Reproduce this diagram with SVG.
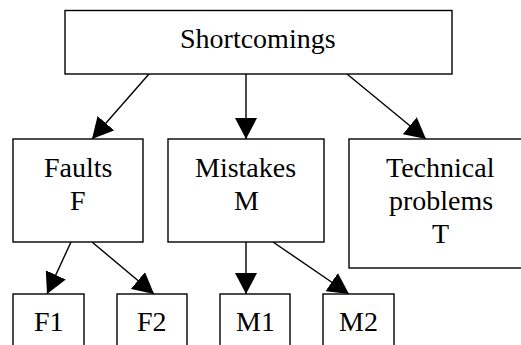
<svg xmlns="http://www.w3.org/2000/svg" width="521" height="345" viewBox="0 0 521 345">
<defs>
<marker id="ah" markerWidth="22" markerHeight="22" refX="21" refY="11" orient="auto" markerUnits="userSpaceOnUse">
<path d="M0,0 L21,11 L0,22 Z" fill="#000"/>
</marker>
</defs>
<rect x="0" y="0" width="521" height="345" fill="#fff"/>
<g id="connectors" stroke="#000" stroke-width="1.4" marker-end="url(#ah)">
<line x1="149" y1="74" x2="92" y2="139"/>
<line x1="246" y1="74" x2="246" y2="139"/>
<line x1="347" y1="74" x2="426" y2="139"/>
<line x1="71" y1="242" x2="47" y2="294"/>
<line x1="92" y1="242" x2="154" y2="294"/>
<line x1="246" y1="242" x2="246" y2="294"/>
<line x1="273" y1="242" x2="349" y2="294"/>
</g>
<g id="shortcomings"><rect x="65" y="10.5" width="387" height="63.5" fill="#fff" stroke="#000" stroke-width="1.4"/></g>
<g id="faults"><rect x="13" y="139" width="130" height="103" fill="#fff" stroke="#000" stroke-width="1.4"/></g>
<g id="mistakes"><rect x="168" y="139" width="156" height="103" fill="#fff" stroke="#000" stroke-width="1.4"/></g>
<g id="technical"><rect x="349" y="139" width="184" height="129" fill="#fff" stroke="#000" stroke-width="1.4"/></g>
<g id="f1"><rect x="13" y="294" width="71" height="60" fill="#fff" stroke="#000" stroke-width="1.4"/></g>
<g id="f2"><rect x="117" y="294" width="70" height="60" fill="#fff" stroke="#000" stroke-width="1.4"/></g>
<g id="m1"><rect x="220" y="294" width="70" height="60" fill="#fff" stroke="#000" stroke-width="1.4"/></g>
<g id="m2"><rect x="323" y="294" width="71" height="60" fill="#fff" stroke="#000" stroke-width="1.4"/></g>
<text x="180" y="48" font-family="Liberation Serif" font-size="28">Shortcomings</text>
<text x="44" y="177" font-family="Liberation Serif" font-size="28">Faults</text>
<text x="70" y="210" font-family="Liberation Serif" font-size="28">F</text>
<text x="195" y="177" font-family="Liberation Serif" font-size="28">Mistakes</text>
<text x="234" y="210" font-family="Liberation Serif" font-size="28">M</text>
<text x="386" y="177" font-family="Liberation Serif" font-size="28">Technical</text>
<text x="389" y="210" font-family="Liberation Serif" font-size="28">problems</text>
<text x="432" y="243" font-family="Liberation Serif" font-size="28">T</text>
<text x="34" y="331" font-family="Liberation Serif" font-size="28">F1</text>
<text x="137" y="331" font-family="Liberation Serif" font-size="28">F2</text>
<text x="236" y="331" font-family="Liberation Serif" font-size="28">M1</text>
<text x="339" y="331" font-family="Liberation Serif" font-size="28">M2</text>
</svg>
